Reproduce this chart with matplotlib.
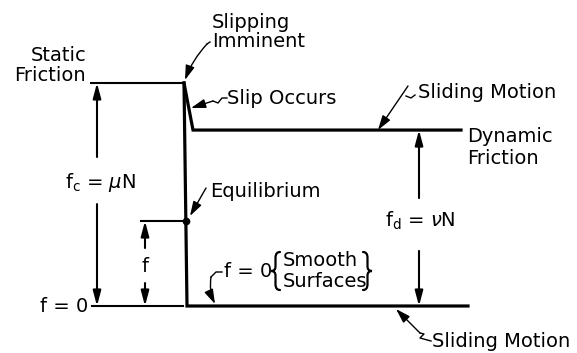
import matplotlib
matplotlib.use("Agg")
import matplotlib.pyplot as plt
from matplotlib.path import Path
from matplotlib.patches import PathPatch

# ---- data (friction levels, normalised to static friction = 1) ----
level_names = ["zero", "applied", "dynamic", "static"]
level_values = [0.0, 0.381, 0.789, 1.0]
# time-like positions of the key events (arbitrary units)
t_start = 0.90
t_applied = 1.41
t_slip = 1.85
t_slip_end = 1.93
t_end_dyn = 4.61
t_end_zero = 4.68
t_marks = [0.97, 1.45, 4.19]   # positions of the dimension arrows

L = dict(zip(level_names, level_values))
FS = 14
plt.rcParams['font.family'] = ['DejaVu Sans']
plt.rcParams['mathtext.fontset'] = 'dejavusans'

fig = plt.figure(figsize=(5.77, 3.53), dpi=100)
ax = fig.add_axes([0, 0, 1, 1])
ax.set_xlim(0, 5.77)
ax.set_ylim(-47 / 223, 306 / 223)
ax.axis('off')

def P(xp, yp):
    """pixel position -> data coordinates (for text / leader placement)"""
    return xp / 100.0, (306 - yp) / 223.0

k = 'black'
# static friction level
ax.plot([t_start, t_slip - 0.02], [L['static'], L['static']], color=k, lw=1.5, solid_capstyle='butt')
# main vertical drop and bottom (smooth surfaces)
ax.plot([t_slip - 0.01, t_slip + 0.02, t_end_zero], [L['static'], L['zero'], L['zero']],
        color=k, lw=2.3, solid_joinstyle='miter')
# slip occurs -> dynamic friction
ax.plot([t_slip - 0.01, t_slip_end, t_end_dyn], [L['static'], L['dynamic'], L['dynamic']],
        color=k, lw=2.3, solid_joinstyle='miter')
# left zero level
ax.plot([t_start + 0.02, t_slip - 0.02], [L['zero'], L['zero']], color=k, lw=1.5)
# applied force level
ax.plot([t_applied, t_slip], [L['applied'], L['applied']], color=k, lw=1.5)
ax.plot([t_slip + 0.005], [L['applied']], 'o', color=k, ms=4.5)

arr = dict(arrowstyle='-|>,head_length=0.75,head_width=0.2', lw=1.5, color=k,
           shrinkA=0, shrinkB=0, mutation_scale=12)

def dim(x, lo, hi, gap_lo, gap_hi):
    ax.annotate('', xy=(x, hi), xytext=(x, gap_hi), arrowprops=arr)
    ax.annotate('', xy=(x, lo), xytext=(x, gap_lo), arrowprops=arr)

dim(t_marks[0], L['zero'], L['static'], 0.457, 0.668)
dim(t_marks[1], L['zero'], L['applied'], 0.103, 0.26)
dim(t_marks[2], L['zero'], L['dynamic'], 0.247, 0.484)

def txt(xp, yp, s, ha='left', va='baseline', fs=FS):
    x, y = P(xp, yp)
    ax.text(x, y, s, ha=ha, va=va, fontsize=fs, color=k)

txt(86, 61, 'Static', ha='right')
txt(86, 81, 'Friction', ha='right')
txt(212, 28, 'Slipping')
txt(212, 47, 'Imminent')
txt(227, 104, 'Slip Occurs')
txt(418, 98, 'Sliding Motion')
txt(467, 142, 'Dynamic')
txt(467, 164, 'Friction')
txt(210, 197, 'Equilibrium')
txt(100, 188, r'f$_{\rm c}$ = $\mu$N', ha='center')
txt(145, 272, 'f', ha='center')
txt(88, 312, 'f = 0', ha='right')
txt(224, 277, 'f = 0')
txt(283, 266, 'Smooth')
txt(283, 287, 'Surfaces')

def brace(xc, yc, h, w, left=True):
    s = 1 if left else -1
    xe = xc + s * w          # x of the two ends
    xm = xc + s * w / 2      # x of the vertical stem
    top, bot = yc - h / 2, yc + h / 2
    pts = [(xe, top), (xm, top), (xm, top + h * 0.15),
           (xm, yc - h * 0.12), (xm, yc), (xc, yc),
           (xm, yc), (xm, yc + h * 0.12),
           (xm, bot - h * 0.15), (xm, bot), (xe, bot)]
    codes = [Path.MOVETO, Path.CURVE3, Path.CURVE3,
             Path.LINETO, Path.CURVE3, Path.CURVE3,
             Path.CURVE3, Path.CURVE3,
             Path.LINETO, Path.CURVE3, Path.CURVE3]
    path = Path([P(*p) for p in pts], codes)
    ax.add_patch(PathPatch(path, fill=False, lw=1.6, color=k, capstyle='round'))

brace(271, 271, 38, 9, left=True)
brace(372, 271, 38, 9, left=False)

txt(420, 227, r'f$_{\rm d}$ = $\nu$N', ha='center')
txt(432, 347, 'Sliding Motion')

lead = dict(arrowstyle='-|>,head_length=0.8,head_width=0.25', lw=1.0, color=k,
            shrinkA=0, shrinkB=0, mutation_scale=11)

def leader(p0, p1, rad=0.0, tail=None):
    a = dict(lead)
    a['connectionstyle'] = 'arc3,rad=%s' % rad
    ax.annotate('', xy=P(*p1), xytext=P(*p0), arrowprops=a)
    if tail is not None:
        xs, ys = zip(*[P(*q) for q in tail])
        ax.plot(xs, ys, color=k, lw=1.0)

leader((207, 44), (185, 80), rad=0.1, tail=[(210, 42), (207, 44)])
leader((213, 101), (191, 108), rad=0.0, tail=[(227, 98), (222, 98), (218, 103), (213, 101)])
leader((408, 86), (378, 130), rad=0.0, tail=[(406, 96), (411, 98), (415, 95)])
leader((206, 188), (190, 216), rad=0.0)
leader((211, 277), (215, 304), rad=0.15, tail=[(222, 272), (216, 272), (211, 277)])
leader((420, 333), (396, 309), rad=0.0, tail=[(431, 341), (420, 338), (424, 334), (420, 333)])

fig.savefig('out.png', dpi=100)
